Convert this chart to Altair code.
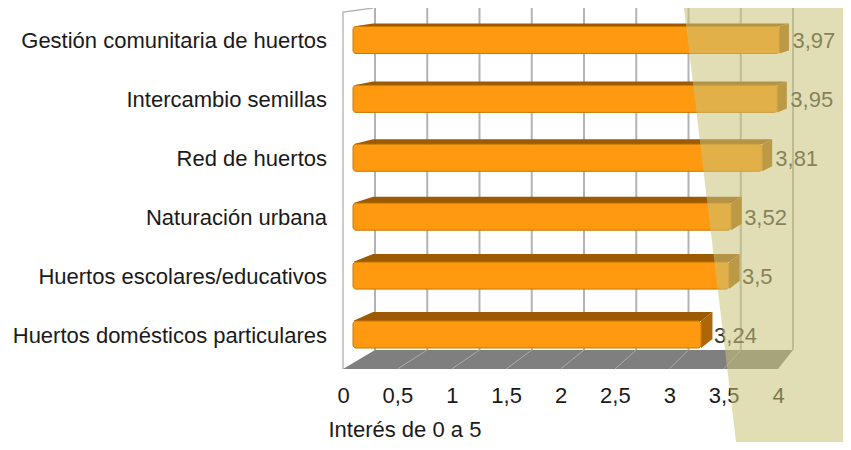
import altair as alt
import pandas as pd

# ---------------- data ----------------
categories = [
    "Gestión comunitaria de huertos",
    "Intercambio semillas",
    "Red de huertos",
    "Naturación urbana",
    "Huertos escolares/educativos",
    "Huertos domésticos particulares",
]
values = [3.97, 3.95, 3.81, 3.52, 3.5, 3.24]
tick_values = [0, 0.5, 1, 1.5, 2, 2.5, 3, 3.5, 4]
axis_title = "Interés de 0 a 5"

# ---------------- 3D layout / style ----------------
W, H = 450, 361             # plot area (front floor 0 .. back wall 4)
FRONT_K = 108.75            # px per unit on the floor front edge
BACK_OFF, BACK_K = 32, 104.5  # back wall: offset of 0 and px per unit
ROW0, ROW_PITCH = 32, 58.9  # first row centre below the top, row pitch
BAR_HALF = 13.5             # half height of the bar front face (px)
D_FRONT, D_BACK = 0.3125, 0.9375  # depth of bar front / back faces
TOP_FACE = [3, 4, 5, 6.5, 8, 9]   # visible top-face thickness per row (px)
FLOOR_BACK = 342            # floor back edge (px from top)
WALL_TOP = 4

ORANGE, ORANGE_EDGE = "#FF990F", "#C97800"
TOP_COL, SIDE_COL = "#9C5A05", "#AE6608"
GRID_COL = "#B3B3B3"
FONT = "Liberation Sans"
FS = 22


def proj(v, d):
    """value at depth d (0 front .. 1 back) -> front-scale units"""
    px = (1 - d) * FRONT_K * v + d * (BACK_OFF + BACK_K * v)
    return px / FRONT_K


def row(py):
    return (py - ROW0) / ROW_PITCH


front_scale = alt.Scale(domain=[0, W / FRONT_K], nice=False, zero=False)
bk = FRONT_K * (1 - D_FRONT) + D_FRONT * BACK_K
boff = D_FRONT * BACK_OFF
bar_scale = alt.Scale(domain=[-boff / bk, (W - boff) / bk], nice=False, zero=False)
y_scale = alt.Scale(domain=[row(0), row(H)], nice=False, zero=False, reverse=True)

half = BAR_HALF / ROW_PITCH
bars = pd.DataFrame({
    "cat": categories,
    "value": values,
    "r": list(range(len(categories))),
})
bars["start"] = 0.0
bars["top"] = bars["r"] - half
bars["bot"] = bars["r"] + half
bars["label"] = [str(v).replace(".", ",") for v in values]

# back wall gridlines
grid = pd.DataFrame({"x": [proj(v, 1) for v in tick_values]})
grid["y"] = row(0)
grid["y2"] = row(FLOOR_BACK)

# left wall outline
wall = pd.DataFrame({
    "x": [0, 0, proj(0, 0.94)],
    "y": [row(H), row(WALL_TOP), row(0)],
    "o": [0, 1, 2],
})

# floor
rf, rb = row(H), row(FLOOR_BACK)
floor = pd.DataFrame({
    "x": [0, proj(0, 1), proj(tick_values[-1], 0), proj(tick_values[-1], 1)],
    "y": [rf, rb, rb, rb],
    "y2": [rf, rf, rf, rb],
})
floor_lines = pd.DataFrame({
    "x": [v for v in tick_values[1:-1]],
    "x2": [proj(v, 1) for v in tick_values[1:-1]],
})
floor_lines["y"] = rf
floor_lines["y2"] = rb

# top and side faces of the bars
top_rows, side_rows = [], []
for c, v, r, t in zip(categories, values, bars["r"], TOP_FACE):
    tf = r - half
    tb = tf - t / ROW_PITCH
    bf = r + half
    bb = bf - t / ROW_PITCH
    FL, BL, FR, BR = proj(0, D_FRONT), proj(0, D_BACK), proj(v, D_FRONT), proj(v, D_BACK)
    top_rows += [
        dict(cat=c, x=FL, y=tf, y2=tf),
        dict(cat=c, x=BL, y=tb, y2=tf),
        dict(cat=c, x=FR, y=tb, y2=tf),
        dict(cat=c, x=BR, y=tb, y2=tb),
    ]
    side_rows += [
        dict(cat=c, x=FR, y=tf, y2=bf),
        dict(cat=c, x=BR, y=tb, y2=bb),
    ]
top_df = pd.DataFrame(top_rows)
side_df = pd.DataFrame(side_rows)

# decorative khaki band on the right
khaki = pd.DataFrame({
    "x": [(683 - 343) / FRONT_K, (737 - 343) / FRONT_K, 4.9],
    "y": [row(-8), row(-8), row(-8)],
    "y2": [row(-8), row(442), row(442)],
})

# ---------------- layers ----------------
floor_layer = alt.Chart(floor).mark_area(orient="vertical", color="#7F7F7F").encode(
    x=alt.X("x:Q", scale=front_scale, axis=alt.Axis(
        values=tick_values, format="~g",
        labelExpr="replace(datum.label, '.', ',')",
        ticks=False, tickSize=0, domain=False, grid=False,
        labelFlush=False, labelOverlap=False, labelPadding=16,
        labelFont=FONT, labelFontSize=FS, labelColor="#1a1a1a",
        title=axis_title, titleFont=FONT, titleFontSize=FS, titleFontWeight="normal",
        titleColor="#1a1a1a", titleAnchor="start", titleAlign="left",
        titleX=-15, titleY=67, titleBaseline="alphabetic",
    )),
    y=alt.Y("y:Q", scale=y_scale, axis=None),
    y2="y2:Q",
)

floor_grid_layer = alt.Chart(floor_lines).mark_rule(color="#ABABAB", strokeWidth=1).encode(
    x=alt.X("x:Q", scale=front_scale, axis=None), x2="x2:Q",
    y=alt.Y("y:Q", scale=y_scale, axis=None), y2="y2:Q",
)

grid_layer = alt.Chart(grid).mark_rule(color=GRID_COL, strokeWidth=2).encode(
    x=alt.X("x:Q", scale=front_scale, axis=None),
    y=alt.Y("y:Q", scale=y_scale, axis=None), y2="y2:Q",
)

wall_layer = alt.Chart(wall).mark_line(color=GRID_COL, strokeWidth=1.3).encode(
    x=alt.X("x:Q", scale=front_scale, axis=None),
    y=alt.Y("y:Q", scale=y_scale, axis=None),
    order="o:Q",
)

top_layer = alt.Chart(top_df).mark_area(orient="vertical", color=TOP_COL).encode(
    x=alt.X("x:Q", scale=front_scale, axis=None),
    y=alt.Y("y:Q", scale=y_scale, axis=None), y2="y2:Q",
    detail="cat:N",
)

side_layer = alt.Chart(side_df).mark_area(orient="vertical", color=SIDE_COL).encode(
    x=alt.X("x:Q", scale=front_scale, axis=None),
    y=alt.Y("y:Q", scale=y_scale, axis=None), y2="y2:Q",
    detail="cat:N",
)

front_layer = alt.Chart(bars).mark_rect(
    fill=ORANGE, stroke=ORANGE_EDGE, strokeWidth=1, cornerRadius=3
).encode(
    x=alt.X("start:Q", scale=bar_scale, axis=None), x2="value:Q",
    y=alt.Y("top:Q", scale=y_scale, axis=None), y2="bot:Q",
)

value_layer = alt.Chart(bars).mark_text(
    align="left", baseline="middle", dx=13, dy=1, font=FONT, fontSize=FS, color="#333333"
).encode(
    x=alt.X("value:Q", scale=bar_scale, axis=None),
    y=alt.Y("r:Q", scale=y_scale, axis=None),
    text="label:N",
)

cat_layer = alt.Chart(bars).mark_text(
    align="right", baseline="middle", dy=1, font=FONT, fontSize=FS, color="#1a1a1a"
).encode(
    x=alt.value(-16),
    y=alt.Y("r:Q", scale=y_scale, axis=None),
    text="cat:N",
)

khaki_layer = alt.Chart(khaki).mark_area(
    orient="vertical", color="#C8C279", opacity=0.55
).encode(
    x=alt.X("x:Q", scale=front_scale, axis=None),
    y=alt.Y("y:Q", scale=y_scale, axis=None), y2="y2:Q",
)

chart = alt.layer(
    grid_layer, wall_layer, floor_layer, floor_grid_layer,
    top_layer, side_layer, front_layer, value_layer, cat_layer, khaki_layer,
).resolve_scale(x="independent").properties(
    width=W, height=H,
    padding={"left": 335, "top": 0, "right": 50, "bottom": 73},
    autosize=alt.AutoSizeParams(type="none"),
    background="white",
).configure_view(stroke=None)

chart.save("out.html", embed_options={"renderer": "svg", "actions": False})
